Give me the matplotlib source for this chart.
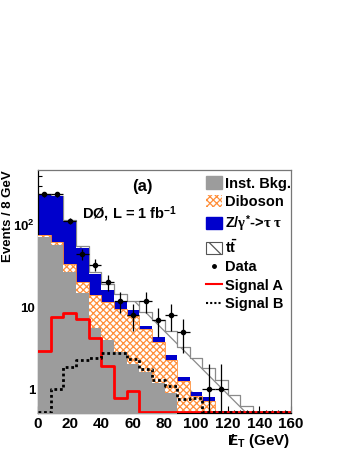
import numpy as np
import matplotlib
matplotlib.use("Agg")
import matplotlib.pyplot as plt
from matplotlib.patches import Patch
from matplotlib.lines import Line2D
from matplotlib.ticker import FixedLocator, FixedFormatter, MultipleLocator

# -------------------------------------------------
# Data (8 GeV bins, 0 - 160 GeV)
# -------------------------------------------------
bin_edges = np.arange(0, 168, 8)

inst_bkg = [72, 57, 27, 14.7, 5.5, 4.0, 2.8, 2.0, 1.6, 1.2,
            0.9, 0.3, 0.2, 0.1, 0.05, 0, 0, 0, 0, 0]
diboson = [3, 4.5, 6.4, 5.6, 8.5, 7.6, 6.6, 5.8, 3.75, 2.6,
           1.36, 0.95, 0.62, 0.61, 0.4, 0.3, 0.2, 0.1, 0.05, 0.03]
ztautau = [162, 166.5, 79.6, 32.7, 11, 4.5, 2.2, 1.4, 0.55, 0.55,
           0.31, 0.14, 0.1, 0.1, 0.09, 0.03, 0.02, 0.01, 0.01, 0]
ttbar = [1.0, 1.2, 1.5, 2.5, 1.8, 3.2, 3.0, 2.8, 2.9, 2.7,
         2.6, 1.9, 1.5, 1.0, 0.75, 0.52, 0.4, 0.42, 0.34, 0.27]

data = [237, 237, 113, 44, 33, 20, 12, 8, 12, 7,
        8, 5, 0, 1, 1, 0, 0, 0, 0, 0]

signal_a = [2.9, 7.5, 8.5, 7.2, 4.2, 1.9, 0.78, 0.95, 0, 0,
            0, 0, 0, 0, 0, 0, 0, 0, 0, 0]
signal_b = [0, 1.0, 1.85, 2.26, 2.37, 2.72, 2.72, 2.35, 1.75, 1.29,
            1.1, 0.75, 0.78, 0, 0, 0, 0, 0, 0, 0]

y_ticks = [1, 10, 100]
y_tick_labels = ["1", "10", r"$\mathrm{10^{2}}$"]
x_ticks = [0, 20, 40, 60, 80, 100, 120, 140, 160]

# -------------------------------------------------
# Style
# -------------------------------------------------
plt.rcParams["font.family"] = ["Liberation Sans", "DejaVu Sans"]
plt.rcParams["font.weight"] = "bold"
plt.rcParams["mathtext.fontset"] = "custom"
plt.rcParams["mathtext.rm"] = "Liberation Sans:bold"
plt.rcParams["mathtext.bf"] = "Liberation Sans:bold"
plt.rcParams["mathtext.it"] = "Liberation Serif"
plt.rcParams["hatch.linewidth"] = 0.9

gray = "#9c9c9c"
orange = "#ff8f3a"
blue = "#0000cc"

y_lo, y_hi = 0.51, 470

fig = plt.figure(figsize=(3.49, 4.51), dpi=100)
ax = fig.add_axes([38 / 349, 38 / 451, 253 / 349, 243 / 451])


def step_xy(values):
    xs = np.repeat(bin_edges, 2)[1:-1]
    ys = np.repeat(np.asarray(values, dtype=float), 2)
    return xs, ys


# cumulative stack, drawn from the top layer down (ROOT style)
c_inst = np.array(inst_bkg, dtype=float)
c_dib = c_inst + np.array(diboson)
c_z = c_dib + np.array(ztautau)
c_tt = c_z + np.array(ttbar)

base = 0.05
layers = [
    (c_tt, dict(facecolor="white", edgecolor="#8a8a8a", hatch="\\", lw=0)),
    (c_z, dict(facecolor=blue, edgecolor=blue, lw=0)),
    (c_dib, dict(facecolor="white", edgecolor=orange, hatch="xxxxx", lw=0)),
    (c_inst, dict(facecolor=gray, edgecolor=gray, lw=0)),
]
for k, (vals, style) in enumerate(layers):
    xs, ys = step_xy(np.clip(vals, base, None))
    ax.fill_between(xs, base, ys, zorder=1 + k, **style)

# step outlines
xs, ys = step_xy(c_tt)
ax.plot(xs, ys, color="#8a8a8a", lw=0.9, zorder=1.5)
xs, ys = step_xy(c_dib)
ax.plot(xs, ys, color=orange, lw=0.6, zorder=3.5)

# signals (empty bins sit on the frame bottom)
floor = 0.53
xs, ys = step_xy(np.clip(signal_a, floor, None))
ax.plot(xs, ys, color="#ff0000", lw=2.0, zorder=6)
xs, ys = step_xy(np.clip(signal_b, floor, None))
ax.plot(xs, ys, color="black", lw=2.0, ls=(0, (1, 1)), zorder=6)

# data with sqrt(N) errors
centers = 0.5 * (bin_edges[1:] + bin_edges[:-1])
d = np.array(data, dtype=float)
has = d > 0
ax.errorbar(centers[has], d[has], yerr=np.sqrt(d[has]), xerr=4,
            fmt="o", ms=3, color="black", ecolor="black", elinewidth=0.9,
            capsize=0, zorder=8)

# -------------------------------------------------
# Axes
# -------------------------------------------------
ax.set_yscale("log")
ax.set_xlim(0, 160)
ax.set_ylim(y_lo, y_hi)

ax.yaxis.set_major_locator(FixedLocator(y_ticks))
ax.yaxis.set_major_formatter(FixedFormatter(y_tick_labels))
minor = [m * 10.0 ** e for e in range(-1, 3) for m in range(2, 10)]
ax.yaxis.set_minor_locator(FixedLocator([v for v in minor if y_lo < v < y_hi]))
ax.yaxis.set_minor_formatter(FixedFormatter([]))

ax.xaxis.set_major_locator(FixedLocator(x_ticks))
ax.xaxis.set_minor_locator(MultipleLocator(4))

ax.tick_params(axis="both", which="both", direction="in", right=False, top=False)
ax.tick_params(axis="x", which="major", length=5, width=0.8, labelsize=11, pad=3)
ax.tick_params(axis="x", which="minor", length=2.5, width=0.8)
ax.tick_params(axis="y", which="major", length=6, width=0.8, labelsize=9.5, pad=2)
ax.tick_params(axis="y", which="minor", length=3, width=0.8)
for lab in ax.get_xticklabels() + ax.get_yticklabels():
    lab.set_fontweight("bold")

for side in ["left", "bottom"]:
    ax.spines[side].set_linewidth(0.9)
for side in ["right", "top"]:
    ax.spines[side].set_linewidth(0.9)
    ax.spines[side].set_color("#777777")

fig.text(8 / 349, 1 - 170 / 451, "Events / 8 GeV", rotation=90,
         ha="center", va="top", fontsize=9.5, fontweight="bold")
fig.text(290 / 349, 1 - 441 / 451, r"$/\!\!\!\mathrm{E}_\mathrm{T}$ (GeV)",
         ha="right", va="center", fontsize=11, fontweight="bold")

fig.text(142 / 349, 1 - 186 / 451, "(a)", ha="center", va="center",
         fontsize=12, fontweight="bold")
fig.text(82 / 349, 1 - 214 / 451, r"DØ, L = 1 fb$^{\mathrm{-1}}$",
         ha="left", va="center", fontsize=10.5, fontweight="bold")

# -------------------------------------------------
# Legend
# -------------------------------------------------
handles = [
    Patch(facecolor=gray, edgecolor=gray),
    Patch(facecolor="white", edgecolor=orange, hatch="xxxxx", lw=0),
    Patch(facecolor=blue, edgecolor=blue),
    Patch(facecolor="white", edgecolor="#555555", hatch="\\", lw=0.8),
    Line2D([], [], marker="o", ms=2.5, ls="none", color="black"),
    Line2D([], [], color="#ff0000", lw=1.5),
    Line2D([], [], color="black", lw=1.5, ls=(0, (1, 1))),
]
labels = [
    "Inst. Bkg.",
    "Diboson",
    r"Z/$\gamma^{*}$->$\tau\ \tau$",
    r"$\mathrm{t\bar{t}}$",
    "Data",
    "Signal A",
    "Signal B",
]
leg = ax.legend(handles, labels, loc="upper left",
                bbox_to_anchor=(205 / 349, 1 - 175 / 451),
                bbox_transform=fig.transFigure,
                frameon=False, fontsize=10.5, handlelength=1.05,
                handleheight=0.9, handletextpad=0.25, labelspacing=0.3,
                borderpad=0.1, borderaxespad=0)
for t in leg.get_texts():
    t.set_fontweight("bold")

fig.savefig("out.png", dpi=100)
